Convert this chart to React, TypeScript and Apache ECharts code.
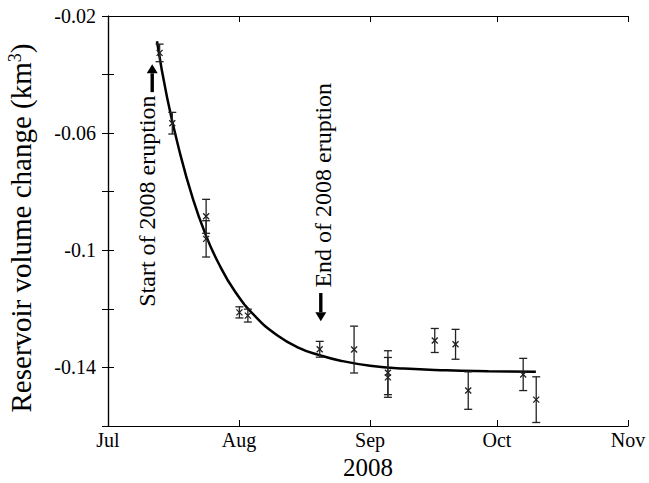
import React, { useEffect, useRef } from "react";
import * as echarts from "echarts";

// ---- data ----
const MONTH_TICKS = ["2008-07-01T00:00", "2008-08-01T00:00", "2008-09-01T00:00", "2008-10-01T00:00", "2008-11-01T00:00"];
const MONTH_LABELS = ["Jul", "Aug", "Sep", "Oct", "Nov"];
const X_TITLE = "2008";

// observations: date, volume change (km3), error (km3)
const OBS_DATES = [
  "2008-07-13T05:00", "2008-07-16T05:00", "2008-07-24T05:00", "2008-07-24T05:00",
  "2008-08-01T02:00", "2008-08-03T02:00", "2008-08-20T02:00", "2008-08-28T05:00",
  "2008-09-05T05:00", "2008-09-05T05:00", "2008-09-16T07:00", "2008-09-21T05:00",
  "2008-09-24T05:00", "2008-10-07T05:00", "2008-10-10T07:00",
];
const OBS_VALUES = [
  -0.0326, -0.0566, -0.0884, -0.0961,
  -0.1212, -0.1223, -0.1338, -0.1339,
  -0.1418, -0.1434, -0.1308, -0.1321,
  -0.1479, -0.1424, -0.151,
];
const OBS_ERRORS = [
  0.003, 0.0037, 0.0058, 0.0062,
  0.0019, 0.0022, 0.0027, 0.008,
  0.0075, 0.0068, 0.0041, 0.0051,
  0.0064, 0.0055, 0.0078,
];

// fitted model curve
const CURVE_DATES = [
  "2008-07-12T14:00", "2008-07-15T00:00", "2008-07-18T00:00", "2008-07-21T00:00",
  "2008-07-24T00:00", "2008-07-27T00:00", "2008-07-31T00:00", "2008-08-05T00:00",
  "2008-08-10T00:00", "2008-08-15T00:00", "2008-08-20T00:00", "2008-08-25T00:00",
  "2008-09-01T00:00", "2008-09-09T00:00", "2008-09-19T00:00", "2008-09-29T00:00",
  "2008-10-10T05:00",
];
const CURVE_VALUES = [
  -0.0286, -0.048, -0.0667, -0.082,
  -0.0943, -0.104, -0.114, -0.1228,
  -0.129, -0.1332, -0.1358, -0.1377,
  -0.1394, -0.1404, -0.141, -0.1413,
  -0.1415,
];

// annotations: arrow date, arrow tail, arrow tip, text date, text centre value, text
const NOTE_ARROW_DATES = ["2008-07-11T11:00", "2008-08-20T08:00"];
const NOTE_TAILS = [-0.046, -0.1146];
const NOTE_TIPS = [-0.0365, -0.1242];
const NOTE_TEXT_DATES = ["2008-07-10T04:00", "2008-08-20T19:00"];
const NOTE_TEXT_VALUES = [-0.0832, -0.0778];
const NOTE_TEXTS = ["Start of 2008 eruption", "End of 2008 eruption"];

const Y_MIN = -0.16;
const Y_MAX = -0.02;
const Y_STEP = 0.02;
const Y_TITLE = "Reservoir volume change (km{sup|3})";

const FONT = "Liberation Serif";
const T0 = Date.parse(MONTH_TICKS[0] + ":00Z");
const toDay = (s: string) => (Date.parse(s + ":00Z") - T0) / 86400000;

export default function App() {
  const ref = useRef<HTMLDivElement>(null);
  useEffect(() => {
    if (!ref.current) return;
    const chart = echarts.init(ref.current, undefined, { renderer: "svg" });
    const tickDays = MONTH_TICKS.map(toDay);
    const xMax = tickDays[tickDays.length - 1];

    const obs = OBS_DATES.map((d, i) => [toDay(d), OBS_VALUES[i], OBS_ERRORS[i]]);
    const curve = CURVE_DATES.map((d, i) => [toDay(d), CURVE_VALUES[i]]);
    const notes = NOTE_ARROW_DATES.map((d, i) => [
      toDay(d), NOTE_TAILS[i], NOTE_TIPS[i], toDay(NOTE_TEXT_DATES[i]), NOTE_TEXT_VALUES[i], i,
    ]);

    const axisLine = { show: true, lineStyle: { color: "#000", width: 1.2 } };
    const yLabel = (v: number) => {
      const k = Math.round(v * 100);
      return Math.abs(k) % 4 === 2 ? String(k / 100) : "";
    };

    chart.setOption({
      animation: false,
      grid: { left: 108, right: 21, top: 16, bottom: 57, containLabel: false, outerBoundsMode: "none" },
      xAxis: [
        {
          type: "value", min: 0, max: xMax, position: "bottom",
          axisLine,
          splitLine: { show: false },
          axisTick: { inside: true, length: 6, customValues: tickDays, lineStyle: { color: "#000" } },
          axisLabel: {
            customValues: tickDays, margin: 4, fontSize: 20, fontFamily: FONT, color: "#000",
            formatter: (v: number) => {
              const idx = tickDays.findIndex((t) => Math.abs(t - v) < 0.01);
              return idx >= 0 ? MONTH_LABELS[idx] : "";
            },
          },
          name: X_TITLE, nameLocation: "middle", nameGap: 29,
          nameTextStyle: { fontSize: 25, fontFamily: FONT, color: "#000" },
        },
        {
          type: "value", min: 0, max: xMax, position: "top",
          axisLine,
          splitLine: { show: false },
          axisTick: { inside: true, length: 6, customValues: tickDays, lineStyle: { color: "#000" } },
          axisLabel: { show: false },
        },
      ],
      yAxis: [
        {
          type: "value", min: Y_MIN, max: Y_MAX, interval: Y_STEP, position: "left",
          axisLine,
          splitLine: { show: false },
          axisTick: { inside: true, length: 6, lineStyle: { color: "#000" } },
          axisLabel: { formatter: yLabel, margin: 12, fontSize: 20, fontFamily: FONT, color: "#000" },
          name: Y_TITLE, nameLocation: "middle", nameGap: 73,
          nameTextStyle: {
            fontSize: 29, fontFamily: FONT, color: "#000", padding: [0, 14, 0, 0],
            rich: { sup: { fontSize: 18, fontFamily: FONT, color: "#000", verticalAlign: "top" } },
          },
        },
        {
          type: "value", min: Y_MIN, max: Y_MAX, interval: Y_STEP, position: "right",
          axisLine,
          splitLine: { show: false },
          axisTick: { inside: true, length: 6, lineStyle: { color: "#000" } },
          axisLabel: { show: false },
        },
      ],
      series: [
        {
          type: "line", data: curve, smooth: true, showSymbol: false,
          lineStyle: { color: "#000", width: 2.5 }, z: 3,
        },
        {
          type: "custom", data: obs, clip: false, z: 4,
          renderItem: (params: any, api: any) => {
            const x = api.value(0), y = api.value(1), e = api.value(2);
            const c = api.coord([x, y]);
            const top = api.coord([x, y + e]);
            const bot = api.coord([x, y - e]);
            const cap = 4, m = 3;
            const st = { stroke: "#222", lineWidth: 1.3 };
            return {
              type: "group",
              children: [
                { type: "line", shape: { x1: c[0], y1: top[1], x2: c[0], y2: bot[1] }, style: st },
                { type: "line", shape: { x1: c[0] - cap, y1: top[1], x2: c[0] + cap, y2: top[1] }, style: st },
                { type: "line", shape: { x1: c[0] - cap, y1: bot[1], x2: c[0] + cap, y2: bot[1] }, style: st },
                { type: "line", shape: { x1: c[0] - m, y1: c[1] - m, x2: c[0] + m, y2: c[1] + m }, style: st },
                { type: "line", shape: { x1: c[0] - m, y1: c[1] + m, x2: c[0] + m, y2: c[1] - m }, style: st },
              ],
            };
          },
        },
        {
          type: "custom", data: notes, clip: false, z: 5,
          renderItem: (params: any, api: any) => {
            const x = api.value(0);
            const tail = api.coord([x, api.value(1)]);
            const tip = api.coord([x, api.value(2)]);
            const txt = api.coord([api.value(3), api.value(4)]);
            const i = api.value(5);
            const dir = tip[1] < tail[1] ? 1 : -1; // 1 => arrow points up
            const headLen = 9, headW = 5.5;
            const baseY = tip[1] + dir * headLen;
            return {
              type: "group",
              children: [
                { type: "line", shape: { x1: tail[0], y1: tail[1], x2: tail[0], y2: baseY }, style: { stroke: "#000", lineWidth: 3.4 } },
                {
                  type: "polygon",
                  shape: { points: [[tip[0], tip[1]], [tip[0] - headW, baseY], [tip[0] + headW, baseY]] },
                  style: { fill: "#000" },
                },
                {
                  type: "text", x: txt[0], y: txt[1], rotation: Math.PI / 2,
                  style: {
                    text: NOTE_TEXTS[i], fontSize: 24, fontFamily: FONT, fill: "#000",
                    align: "center", verticalAlign: "middle",
                  },
                },
              ],
            };
          },
        },
      ],
    });
    return () => chart.dispose();
  }, []);
  return (
    <div
      ref={ref}
      style={{ position: "fixed", left: 0, top: 0, width: 649, height: 483, background: "#fff" }}
    />
  );
}
